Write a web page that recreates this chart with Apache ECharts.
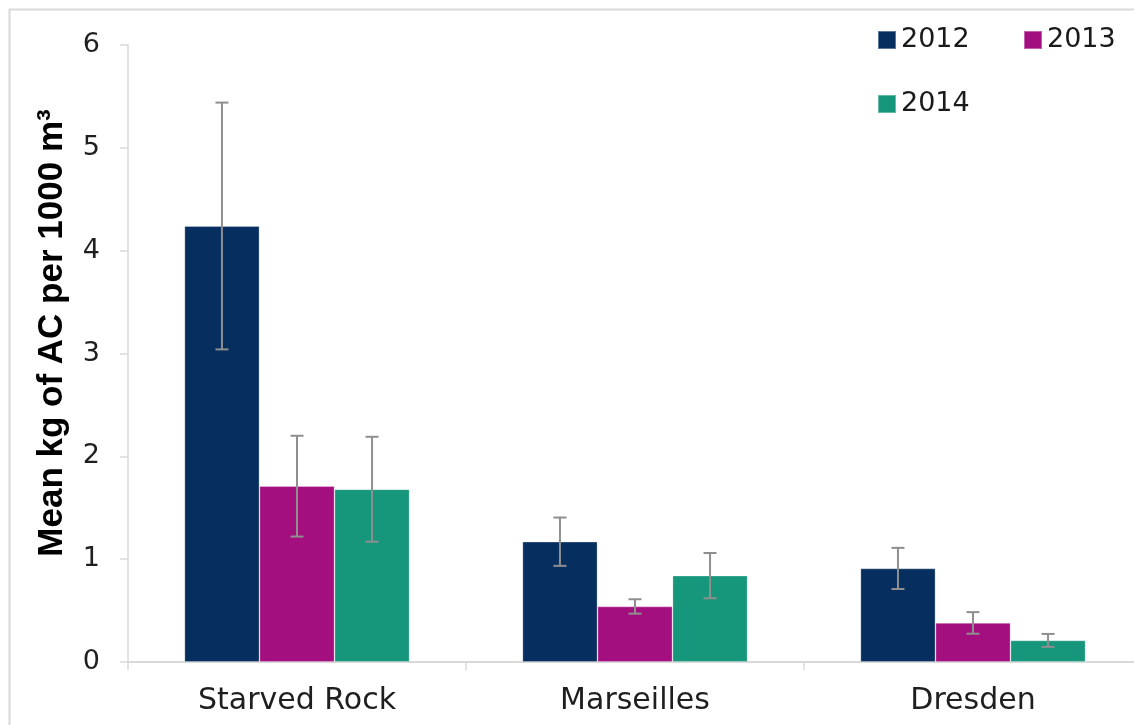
<!DOCTYPE html>
<html>
<head>
<meta charset="utf-8">
<script src="https://cdn.jsdelivr.net/npm/echarts@6/dist/echarts.min.js"></script>
<style>
html,body{margin:0;padding:0;background:#fff;overflow:hidden;width:1134px;height:725px;}
#chart{width:1142px;height:725px;}
</style>
</head>
<body>
<div id="chart"></div>
<script>
const categories = ['Starved Rock', 'Marseilles', 'Dresden'];
const seriesNames = ['2012', '2013', '2014'];
const v2012 = [4.24, 1.17, 0.91];
const v2013 = [1.71, 0.54, 0.38];
const v2014 = [1.68, 0.84, 0.21];
const err2012 = [1.2, 0.235, 0.2];
const err2013 = [0.49, 0.07, 0.105];
const err2014 = [0.51, 0.22, 0.063];
const yTicks = [0, 1, 2, 3, 4, 5, 6];

const colors = ['#062E5F', '#A40F80', '#16967A'];
const values = [v2012, v2013, v2014];
const errors = [err2012, err2013, err2014];
const catGap = 0.334;
const labelFont = 'DejaVu Sans';

const chart = echarts.init(document.getElementById('chart'));

const barSeries = values.map((vals, k) => ({
  name: seriesNames[k],
  type: 'bar',
  data: vals,
  barGap: '0%',
  barCategoryGap: (catGap * 100) + '%',
  itemStyle: { color: colors[k], borderColor: 'rgba(255,255,255,0.35)', borderWidth: 0.8 },
  z: 2
}));

const errSeries = values.map((vals, k) => ({
  name: seriesNames[k] + ' err',
  type: 'custom',
  data: vals.map((v, i) => [i, v, errors[k][i]]),
  z: 5,
  silent: true,
  renderItem: function (params, api) {
    const ci = api.value(0), v = api.value(1), e = api.value(2);
    const bw = api.size([1, 0])[0];
    const barW = bw * (1 - catGap) / 3;
    const off = (k - 1) * barW;
    const top = api.coord([ci, v + e]);
    const bot = api.coord([ci, v - e]);
    const x = top[0] + off;
    const cap = 6.5;
    const style = { stroke: '#8f8f8f', lineWidth: 2 };
    return {
      type: 'group',
      children: [
        { type: 'line', shape: { x1: x, y1: top[1], x2: x, y2: bot[1] }, style: style },
        { type: 'line', shape: { x1: x - cap, y1: top[1], x2: x + cap, y2: top[1] }, style: style },
        { type: 'line', shape: { x1: x - cap, y1: bot[1], x2: x + cap, y2: bot[1] }, style: style }
      ]
    };
  }
}));

function legendAt(name, left, top) {
  return {
    data: [name],
    left: left,
    top: top,
    icon: 'rect',
    itemWidth: 18,
    itemHeight: 18,
    itemGap: 0,
    padding: 0,
    textStyle: { fontFamily: labelFont, fontSize: 27, color: '#1a1a1a', lineHeight: 30 }
  };
}

const option = {
  backgroundColor: '#ffffff',
  animation: false,
  color: colors,
  grid: { left: 128, top: 45, right: 0, bottom: 63, containLabel: false },
  legend: [
    legendAt('2012', 877, 25),
    legendAt('2013', 1023, 25),
    legendAt('2014', 877, 89)
  ],
  xAxis: {
    type: 'category',
    data: categories,
    axisLine: { lineStyle: { color: '#d9d9d9', width: 2 } },
    axisTick: { show: true, length: 8, lineStyle: { color: '#d9d9d9', width: 1.5 } },
    axisLabel: { fontFamily: labelFont, fontSize: 30, color: '#1f1f1f', margin: 24 }
  },
  yAxis: {
    type: 'value',
    min: yTicks[0],
    max: yTicks[yTicks.length - 1],
    interval: 1,
    axisLine: { show: true, lineStyle: { color: '#d9d9d9', width: 1.5 } },
    axisTick: { show: true, length: 8, lineStyle: { color: '#d9d9d9', width: 1.5 } },
    splitLine: { show: false },
    axisLabel: { fontFamily: labelFont, fontSize: 27, color: '#1f1f1f', margin: 28 }
  },
  graphic: [
    {
      type: 'rect',
      left: 7, top: 7,
      shape: { width: 1300, height: 900 },
      style: { fill: 'none', stroke: '#d9d9d9', lineWidth: 2 },
      silent: true,
      z: -10
    },
    {
      type: 'text',
      x: 52, y: 333,
      rotation: Math.PI / 2,
      style: {
        text: 'Mean kg of AC per 1000 m³',
        fontFamily: 'Liberation Sans',
        fontWeight: 'bold',
        fontSize: 35,
        fill: '#000000',
        align: 'center',
        verticalAlign: 'middle'
      }
    }
  ],
  series: barSeries.concat(errSeries)
};

chart.setOption(option);
</script>
</body>
</html>
